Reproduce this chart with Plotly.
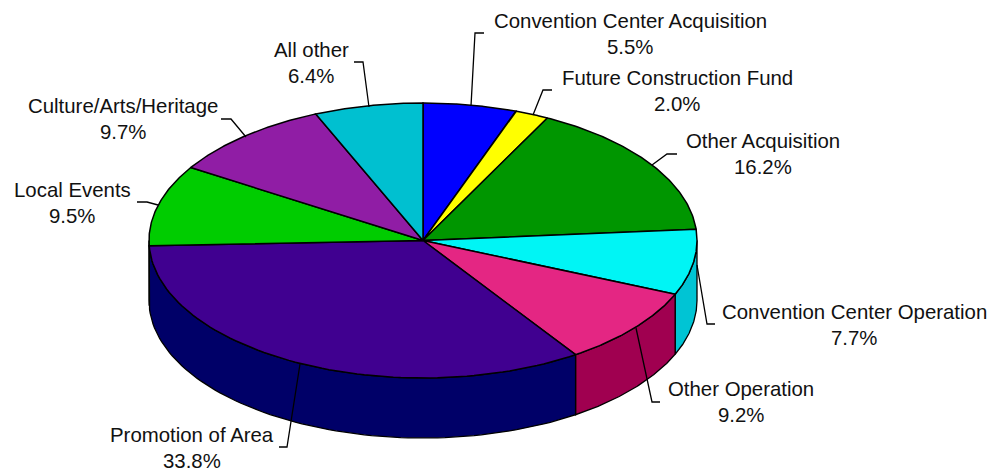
import numpy as np
import plotly.graph_objects as go

# --- data ---
categories = ["Convention Center Acquisition", "Future Construction Fund", "Other Acquisition",
              "Convention Center Operation", "Other Operation", "Promotion of Area",
              "Local Events", "Culture/Arts/Heritage", "All other"]
shares = [5.5, 2.0, 16.2, 7.7, 9.2, 33.8, 9.5, 9.7, 6.4]
top_colors = ["#0000FF", "#FFFF00", "#009600", "#00F5F5", "#E42683", "#400090", "#00CC00", "#901DA5", "#00C0D0"]
side_colors = ["#0000C0", "#C0C000", "#007000", "#00C4D4", "#A00050", "#000068", "#009800", "#6C1480", "#009098"]

# --- label placement (chart pixels) ---
label_x = [630, 677, 763, 854, 741, 192, 72, 123, 311]
label_y = [21, 78, 141, 312, 389, 435, 190, 106, 50]
line_gap = 25.6
leader_x = [[471, 475, 484], [533, 543, 552], [652, 667, 677], [697, 707, 715], [636, 652, 660],
            [300, 287, 279], [158, 147, 137], [246, 231, 221], [369, 363, 354]]
leader_y = [[106, 33, 33], [115, 90, 90], [165, 154, 154], [265, 324, 324], [328, 402, 402],
            [364, 447, 447], [205, 202, 202], [137, 119, 119], [107, 62, 62]]

# --- pie geometry ---
CX, CY, RX, RY, DEPTH = 423, 240.5, 274, 137.5, 60


def ex(t):
    return CX + RX * np.sin(t)


def ey(t, drop=0):
    return CY - RY * np.cos(t) + drop


fig = go.Figure()
edges = np.radians(np.concatenate([[0], np.cumsum(shares)]) * 3.6)

# Side walls: only the front half of the ellipse (90 to 270 degrees) is visible
for i in range(len(shares)):
    a, b = max(edges[i], np.pi / 2), min(edges[i + 1], 3 * np.pi / 2)
    if b <= a:
        continue
    t = np.linspace(a, b, 80)
    xs = np.concatenate([ex(t), ex(t[::-1])])
    ys = np.concatenate([ey(t), ey(t[::-1], DEPTH)])
    fig.add_trace(go.Scatter(x=np.append(xs, xs[0]), y=np.append(ys, ys[0]), mode="lines", fill="toself",
                             fillcolor=side_colors[i], line=dict(color="black", width=1.3),
                             hoverinfo="skip", showlegend=False))

# Top face
for i in range(len(shares)):
    t = np.linspace(edges[i], edges[i + 1], 80)
    xs = np.concatenate([[CX], ex(t), [CX]])
    ys = np.concatenate([[CY], ey(t), [CY]])
    fig.add_trace(go.Scatter(x=xs, y=ys, mode="lines", fill="toself", fillcolor=top_colors[i],
                             line=dict(color="black", width=1.5), name=categories[i],
                             hoverinfo="skip", showlegend=False))

# Leaders
for lx, ly in zip(leader_x, leader_y):
    fig.add_trace(go.Scatter(x=lx, y=ly, mode="lines", line=dict(color="black", width=1.3),
                             hoverinfo="skip", showlegend=False))

# Labels
font = dict(family="Liberation Sans, Arial, sans-serif", size=20.4, color="#111111")
for name, val, x, y in zip(categories, shares, label_x, label_y):
    fig.add_annotation(x=x, y=y, text=name, showarrow=False, font=font, xanchor="center", yanchor="middle")
    fig.add_annotation(x=x, y=y + line_gap, text=f"{val:.1f}%", showarrow=False, font=font,
                       xanchor="center", yanchor="middle")

fig.update_layout(width=991, height=469, margin=dict(l=0, r=0, t=0, b=0),
                  paper_bgcolor="white", plot_bgcolor="white", showlegend=False,
                  xaxis=dict(range=[0, 991], visible=False, fixedrange=True),
                  yaxis=dict(range=[469, 0], visible=False, fixedrange=True))
fig.write_html("out.html", config={"displayModeBar": False},
               post_script="document.body.style.margin='0';")
